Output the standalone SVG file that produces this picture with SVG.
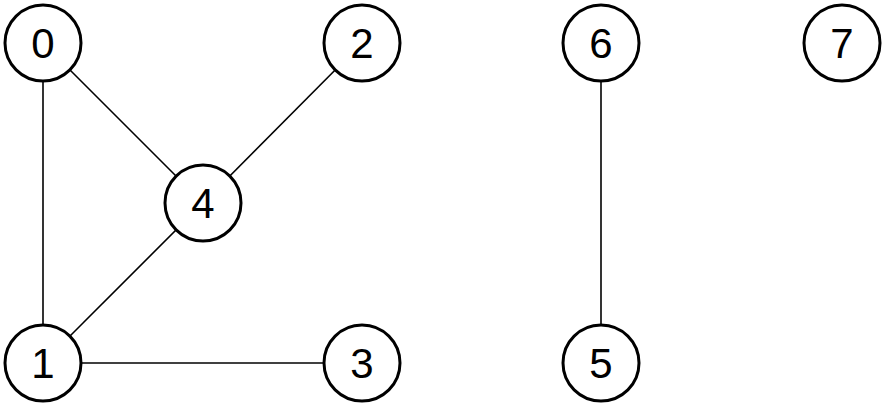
<svg xmlns="http://www.w3.org/2000/svg" width="888" height="407" viewBox="0 0 888 407">
<style>
.n circle{fill:#fff;stroke:#000;stroke-width:3}
.n text{font-family:"Liberation Sans",Arial,sans-serif;font-size:42px;text-anchor:middle;fill:#000}
#edges line{stroke:#000;stroke-width:1.6}
</style>
<rect width="888" height="407" fill="#fff"/>
<g id="edges">
<line x1="43" y1="43" x2="203" y2="203"/>
<line x1="43" y1="43" x2="43" y2="363"/>
<line x1="362" y1="43" x2="203" y2="203"/>
<line x1="43" y1="363" x2="203" y2="203"/>
<line x1="43" y1="363" x2="362" y2="363"/>
<line x1="601" y1="43" x2="601" y2="363"/>
</g>
<g id="node0" class="n"><circle cx="43" cy="43" r="38"/><text x="43" y="58">0</text></g>
<g id="node1" class="n"><circle cx="43" cy="363" r="38"/><text x="43" y="378">1</text></g>
<g id="node2" class="n"><circle cx="362" cy="43" r="38"/><text x="362" y="58">2</text></g>
<g id="node3" class="n"><circle cx="362" cy="363" r="38"/><text x="362" y="378">3</text></g>
<g id="node4" class="n"><circle cx="203" cy="203" r="38"/><text x="203" y="218">4</text></g>
<g id="node5" class="n"><circle cx="601" cy="363" r="38"/><text x="601" y="378">5</text></g>
<g id="node6" class="n"><circle cx="601" cy="43" r="38"/><text x="601" y="58">6</text></g>
<g id="node7" class="n"><circle cx="842" cy="43" r="38"/><text x="842" y="58">7</text></g>
</svg>
